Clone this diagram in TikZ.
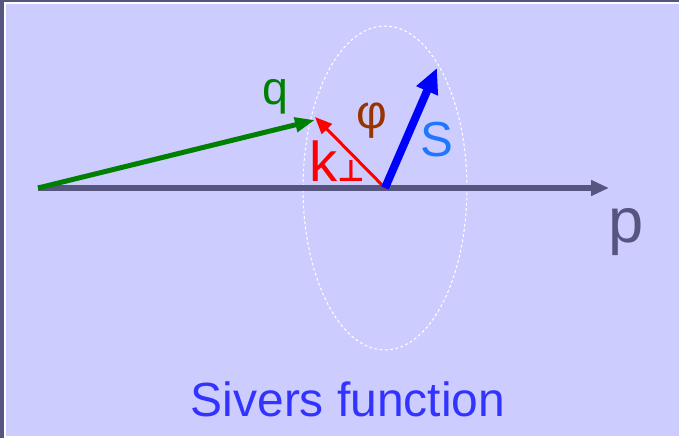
\documentclass[tikz,border=0pt]{standalone}
\usepackage{fontspec}
\setmainfont{Liberation Sans}
\newfontfamily\perpfont{DejaVu Sans}
\usetikzlibrary{arrows.meta}

\definecolor{lavender}{RGB}{204,204,255}
\definecolor{slate}{RGB}{85,85,128}
\definecolor{qgreen}{RGB}{0,128,0}
\definecolor{sblue}{RGB}{30,120,255}
\definecolor{phibrown}{RGB}{153,51,0}
\definecolor{titleblue}{RGB}{51,51,255}

\tikzset{
  vlabel/.style={anchor=base, inner sep=0pt},
  vec/.style={line cap=butt},
}

\begin{document}
\begin{tikzpicture}[x=0.02cm, y=-0.02cm]
        % frame and background
        \fill[slate] (0,0) rectangle (679,438);
        \fill[white] (4,2) rectangle (679,438);
        \fill[lavender] (6,4) rectangle (679,436);
        \useasboundingbox (0,0) rectangle (679,438);

        \coordinate (O) at (38,188);
        \coordinate (pend) at (609,188);
        \coordinate (qend) at (315,120);
        \coordinate (C) at (385,188);
        \coordinate (kend) at (315,117);
        \coordinate (send) at (437,68);

        \draw[white, line width=0.6pt, dash pattern=on 1.6pt off 1.4pt]
             (C) ellipse [x radius=1.64cm, y radius=3.24cm];

        \draw[vec, slate, line width=0.12cm, -{Triangle[length=0.36cm, width=0.3cm]}] (O) -- (pend);
        \draw[vec, qgreen, line width=0.1cm, -{Triangle[length=0.4cm, width=0.28cm]}] (O) -- (qend);
        \draw[vec, red, line width=0.06cm, -{Triangle[length=0.34cm, width=0.28cm]}] (C) -- (kend);
        \draw[vec, blue, line width=0.16cm, -{Triangle[length=0.5cm, width=0.44cm]}] (C) -- (send);

        \node[vlabel, qgreen, font=\fontsize{26.5}{30}\selectfont] (qlab) at (275,105) {q};
        \node[vlabel, slate, font=\fontsize{36}{40}\selectfont] (plab) at (626,243) {p};
        \node[vlabel, phibrown, font=\fontsize{27}{30}\selectfont] (philab) at (372,129) {φ};
        \node[vlabel, sblue, font=\fontsize{28}{31}\selectfont] (slab) at (437,157) {S};
        \node[vlabel, anchor=base west, red, font=\fontsize{32}{35}\selectfont] (klab) at (309,182)
             {k{\perpfont\bfseries\fontsize{17}{20}\selectfont ⊥}};

        \node[vlabel, titleblue, font=\fontsize{27.3}{30}\selectfont] (title) at (348,417) {Sivers function};
    \end{tikzpicture}
\end{document}
